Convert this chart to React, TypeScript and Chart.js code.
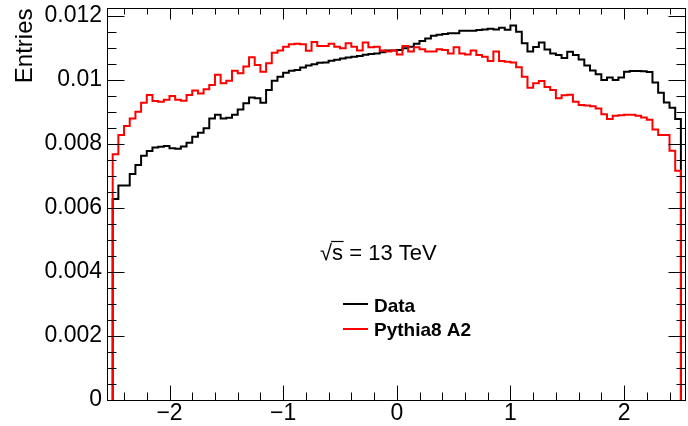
import React, { useEffect, useRef } from "react";
import { Chart, registerables } from "chart.js";

Chart.register(...registerables);

// Histogram binning: 100 bins of width 0.05 from -2.5 to 2.5
const BIN_LOW = -2.5;
const BIN_WIDTH = 0.05;

// "Data" (black) bin contents
const dataValues = [
  0.00628, 0.0067, 0.0067, 0.00706, 0.00734, 0.00763, 0.00778, 0.00789, 0.00791, 0.00794,
  0.00787, 0.00785, 0.00792, 0.00804, 0.00823, 0.00835, 0.00849, 0.0088, 0.00891, 0.0088,
  0.00882, 0.00891, 0.00908, 0.00927, 0.00945, 0.00943, 0.00929, 0.00969, 0.00998, 0.0101,
  0.01023, 0.01029, 0.01031, 0.01039, 0.01045, 0.01049, 0.01054, 0.01055, 0.0106, 0.01063,
  0.01067, 0.0107, 0.01073, 0.01075, 0.01079, 0.01081, 0.01083, 0.01087, 0.01092, 0.01092,
  0.01094, 0.01099, 0.01104, 0.01113, 0.01122, 0.0113, 0.01138, 0.01141, 0.01144, 0.01146,
  0.01146, 0.01154, 0.01154, 0.01154, 0.01156, 0.01158, 0.0116, 0.01158, 0.01163, 0.01157,
  0.0117, 0.01151, 0.01115, 0.01089, 0.01103, 0.01117, 0.01095, 0.01083, 0.01078, 0.01069,
  0.01088, 0.01078, 0.01064, 0.01045, 0.0103, 0.01018, 0.01, 0.01008, 0.01, 0.01008,
  0.01026, 0.01028, 0.01028, 0.01027, 0.01025, 0.00992, 0.0096, 0.0093, 0.00913, 0.00878,
];

// "Pythia8 A2" (red) bin contents
const pythiaValues = [
  0.00768, 0.00828, 0.00856, 0.0088, 0.00901, 0.00929, 0.00953, 0.00934, 0.00932, 0.00938,
  0.0095, 0.00938, 0.00935, 0.00953, 0.00967, 0.00958, 0.00971, 0.00984, 0.01016, 0.0099,
  0.00998, 0.01029, 0.01021, 0.01042, 0.01071, 0.01047, 0.01026, 0.01052, 0.01085, 0.01092,
  0.01104, 0.01112, 0.01113, 0.01112, 0.01091, 0.01119, 0.01106, 0.01106, 0.01113, 0.01104,
  0.01099, 0.01115, 0.01104, 0.01092, 0.01117, 0.01102, 0.01104, 0.01092, 0.01089, 0.01092,
  0.0108, 0.01106, 0.01089, 0.01102, 0.01096, 0.01089, 0.01089, 0.01096, 0.01094, 0.01083,
  0.01102, 0.01083, 0.0108, 0.01092, 0.01078, 0.01073, 0.01059, 0.01089, 0.01059, 0.01057,
  0.01055, 0.0104, 0.0101, 0.00976, 0.0099, 0.00997, 0.00978, 0.00969, 0.00943, 0.00952,
  0.00954, 0.00932, 0.00922, 0.0092, 0.00918, 0.00911, 0.00893, 0.00878, 0.00888, 0.0089,
  0.00891, 0.00891, 0.00888, 0.00883, 0.00876, 0.00845, 0.00828, 0.00828, 0.00779, 0.00716,
];

const seriesLabels = ["Data", "Pythia8 A2"];
const seriesColors = ["#000000", "#ff0000"];

const xMajorTicks = [-2, -1, 0, 1, 2];
const yMajorTicks = [0, 0.002, 0.004, 0.006, 0.008, 0.01, 0.012];
const X_MINOR_STEP = 0.2;
const Y_MINOR_STEP = 0.0005;

const X_AXIS_MIN = -2.55;
const X_AXIS_MAX = 2.545;
const Y_AXIS_MAX = 0.012234;

const energyLabel = "13 TeV";

function histPoints(vals: number[]) {
  const pts: { x: number; y: number }[] = [{ x: BIN_LOW, y: 0 }];
  vals.forEach((v, i) => {
    const lo = BIN_LOW + i * BIN_WIDTH;
    const hi = BIN_LOW + (i + 1) * BIN_WIDTH;
    pts.push({ x: lo, y: v });
    pts.push({ x: hi, y: v });
  });
  pts.push({ x: BIN_LOW + vals.length * BIN_WIDTH, y: 0 });
  return pts;
}

const FONT = '"Liberation Sans", Arial, Helvetica, sans-serif';

const rootFramePlugin = {
  id: "rootFrame",
  afterDraw(chart: any) {
    const { ctx, chartArea } = chart;
    const xs = chart.scales.x;
    const ys = chart.scales.y;
    const L = Math.floor(chartArea.left) + 0.5;
    const R = Math.floor(chartArea.right) - 0.5;
    const T = Math.floor(chartArea.top) + 0.5;
    const B = Math.floor(chartArea.bottom) + 0.5;
    ctx.save();
    ctx.strokeStyle = "#000";
    ctx.lineWidth = 1;
    ctx.strokeRect(L, T, R - L, B - T);

    ctx.beginPath();
    // x ticks (bottom and top)
    const nx = Math.round(2.4 / X_MINOR_STEP);
    for (let k = -nx; k <= nx; k++) {
      const v = k * X_MINOR_STEP;
      const major = Math.abs(v - Math.round(v)) < 1e-6;
      const px = Math.round(xs.getPixelForValue(v)) + 0.5;
      const lb = major ? 15 : 8;
      const lt = major ? 11 : 6;
      ctx.moveTo(px, B);
      ctx.lineTo(px, B - lb);
      ctx.moveTo(px, T);
      ctx.lineTo(px, T + lt);
    }
    // y ticks (left and right)
    const ny = Math.round(0.012 / Y_MINOR_STEP);
    for (let k = 0; k <= ny; k++) {
      const v = k * Y_MINOR_STEP;
      const major = k % 4 === 0;
      const py = Math.round(ys.getPixelForValue(v)) + 0.5;
      const l = major ? 17 : 9;
      ctx.moveTo(L, py);
      ctx.lineTo(L + l, py);
      ctx.moveTo(R, py);
      ctx.lineTo(R - l, py);
    }
    ctx.stroke();

    // sqrt(s) label
    ctx.fillStyle = "#000";
    ctx.textBaseline = "alphabetic";
    ctx.textAlign = "left";
    ctx.font = `22px ${FONT}`;
    let tx = 320;
    const base = 259.5;
    ctx.fillText("\u221A", tx, base);
    tx += ctx.measureText("\u221A").width;
    const sw = ctx.measureText("s").width;
    ctx.fillText("s", tx, base);
    ctx.beginPath();
    ctx.lineWidth = 1.2;
    ctx.moveTo(tx - 1, base - 18);
    ctx.lineTo(tx + sw + 0.5, base - 18);
    ctx.stroke();
    tx += sw;
    ctx.fillText(" = " + energyLabel, tx, base);

    // legend
    ctx.font = `bold 19px ${FONT}`;
    const rows = [
      { y: 304, tb: 311.5 },
      { y: 329, tb: 336 },
    ];
    chart.data.datasets.forEach((ds: any, i: number) => {
      const r = rows[i];
      ctx.beginPath();
      ctx.strokeStyle = ds.borderColor;
      ctx.lineWidth = 2;
      ctx.moveTo(343, r.y);
      ctx.lineTo(368, r.y);
      ctx.stroke();
      ctx.fillStyle = "#000";
      ctx.fillText(ds.label, 374, r.tb);
    });
    ctx.restore();
  },
};

export default function App() {
  const ref = useRef<HTMLCanvasElement | null>(null);
  useEffect(() => {
    const canvas = ref.current;
    if (!canvas) return;
    const chart = new Chart(canvas, {
      type: "line",
      data: {
        datasets: [
          {
            label: seriesLabels[0],
            data: histPoints(dataValues),
            borderColor: seriesColors[0],
            borderWidth: 2,
            pointRadius: 0,
            fill: false,
            tension: 0,
            order: 1,
          },
          {
            label: seriesLabels[1],
            data: histPoints(pythiaValues),
            borderColor: seriesColors[1],
            borderWidth: 2,
            pointRadius: 0,
            fill: false,
            tension: 0,
            order: 0,
          },
        ],
      },
      options: {
        animation: false,
        responsive: false,
        devicePixelRatio: 1,
        layout: { padding: { top: 8.5, right: 2, left: 0, bottom: 0 } },
        plugins: { legend: { display: false }, tooltip: { enabled: false } },
        scales: {
          x: {
            type: "linear",
            min: X_AXIS_MIN,
            max: X_AXIS_MAX,
            grid: { display: false, drawTicks: false },
            border: { display: false },
            afterBuildTicks: (s: any) => {
              s.ticks = xMajorTicks.map((v) => ({ value: v }));
            },
            ticks: {
              font: { family: FONT, size: 23 },
              color: "#000",
              padding: 0,
              maxRotation: 0,
              autoSkip: false,
              callback: (v: any) => (Number(v) < 0 ? "\u2212" + Math.abs(Number(v)) : String(v)),
            },
            afterFit: (s: any) => {
              s.height = 26;
              s.paddingLeft = 0;
              s.paddingRight = 0;
            },
          },
          y: {
            type: "linear",
            min: 0,
            max: Y_AXIS_MAX,
            grid: { display: false, drawTicks: false },
            border: { display: false },
            afterBuildTicks: (s: any) => {
              s.ticks = yMajorTicks.map((v) => ({ value: v }));
            },
            ticks: {
              font: { family: FONT, size: 23 },
              color: "#000",
              padding: 5,
              autoSkip: false,
              callback: (v: any) => String(Number(Number(v).toFixed(4))),
            },
            title: {
              display: true,
              text: "Entries",
              align: "end",
              color: "#000",
              font: { family: FONT, size: 24 },
              padding: { top: 11, bottom: 0 },
            },
            afterFit: (s: any) => {
              s.width = 107;
              s.paddingTop = 0;
              s.paddingBottom = 0;
            },
          },
        },
      } as any,
      plugins: [rootFramePlugin],
    });
    return () => chart.destroy();
  }, []);

  return (
    <div style={{ position: "fixed", left: 0, top: 0, width: 688, height: 426, background: "#fff" }}>
      <canvas ref={ref} width={688} height={426} style={{ display: "block" }} />
    </div>
  );
}
